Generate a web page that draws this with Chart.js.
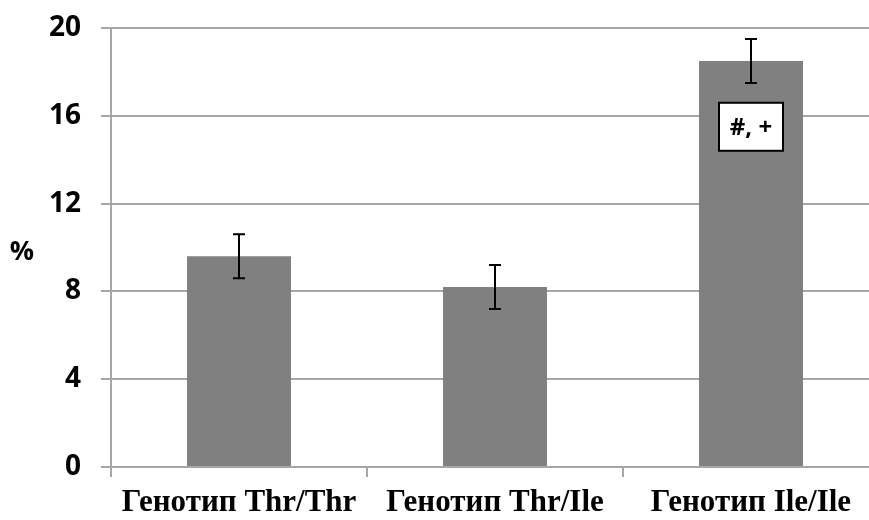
<!DOCTYPE html>
<html>
<head>
<meta charset="utf-8">
<script src="https://cdn.jsdelivr.net/npm/chart.js@4.4.1/dist/chart.umd.min.js"></script>
<style>
    html, body { margin: 0; padding: 0; background: #fff; overflow: hidden; }
    #wrap { width: 869px; height: 520px; overflow: hidden; }
</style>
</head>
<body>
<div id="wrap"><canvas id="genoChart" width="879" height="520"></canvas></div>
<script>
// ── Data ──
const categories = ['Генотип Thr/Thr', 'Генотип Thr/Ile', 'Генотип Ile/Ile'];
const values = [9.6, 8.2, 18.5];
const errors = [1.0, 1.0, 1.0];
const yTicks = [0, 4, 8, 12, 16, 20];
const markText = '#, +';
const markIndex = 2;
const markValue = 15.5;

const gridGray = '#a6a6a6';

// ── Error bars, significance box and "%" label ──
const extrasPlugin = {
    id: 'extras',
    afterDatasetsDraw(chart) {
        const ctx = chart.ctx;
        const y = chart.scales.y;
        const meta = chart.getDatasetMeta(0);

        ctx.save();
        ctx.strokeStyle = '#000';
        ctx.lineWidth = 2;
        meta.data.forEach((bar, i) => {
            const top = y.getPixelForValue(values[i] + errors[i]);
            const bot = y.getPixelForValue(values[i] - errors[i]);
            ctx.beginPath();
            ctx.moveTo(bar.x, top);
            ctx.lineTo(bar.x, bot);
            ctx.moveTo(bar.x - 6, top);
            ctx.lineTo(bar.x + 6, top);
            ctx.moveTo(bar.x - 6, bot);
            ctx.lineTo(bar.x + 6, bot);
            ctx.stroke();
        });

        // "#, +" box
        const mx = meta.data[markIndex].x;
        const my = y.getPixelForValue(markValue);
        const bw = 64, bh = 48;
        ctx.fillStyle = '#fff';
        ctx.fillRect(mx - bw / 2, my - bh / 2, bw, bh);
        ctx.strokeRect(mx - bw / 2, my - bh / 2, bw, bh);
        ctx.fillStyle = '#000';
        ctx.font = "bold 24px 'Open Sans'";
        ctx.textAlign = 'center';
        ctx.textBaseline = 'middle';
        ctx.fillText(markText, mx, my + 1);

        // axis unit
        ctx.font = "bold 27px 'Open Sans'";
        ctx.fillText('%', 22, 252);
        ctx.restore();
    }
};

const genoCtx = document.getElementById('genoChart');
new Chart(genoCtx, {
    type: 'bar',
    data: {
        labels: categories,
        datasets: [{
            data: values,
            backgroundColor: '#808080',
            borderWidth: 0,
            barPercentage: 0.5,
            categoryPercentage: 0.812
        }]
    },
    options: {
        responsive: false,
        animation: false,
        devicePixelRatio: 1,
        layout: { padding: { top: 28, right: 0, left: 0, bottom: 0 } },
        plugins: {
            legend: { display: false },
            tooltip: { enabled: false }
        },
        scales: {
            x: {
                grid: {
                    offset: true,
                    drawOnChartArea: false,
                    tickLength: 10,
                    color: gridGray,
                    lineWidth: 2
                },
                border: { color: gridGray, width: 2 },
                ticks: {
                    color: '#000',
                    padding: 7,
                    font: { family: "'Liberation Serif'", weight: 'bold', size: 31 }
                },
                afterFit: (scale) => { scale.height = 53; }
            },
            y: {
                min: 0,
                max: 20,
                afterBuildTicks: (scale) => {
                    scale.ticks = yTicks.map(v => ({ value: v }));
                },
                grid: { color: gridGray, lineWidth: 2, tickLength: 10 },
                border: { color: gridGray, width: 2 },
                ticks: {
                    color: '#000',
                    padding: 20,
                    font: { family: "'Open Sans'", weight: 'bold', size: 28 }
                },
                afterFit: (scale) => {
                    scale.width = 111;
                    scale.paddingTop = 0;
                    scale.paddingBottom = 0;
                }
            }
        }
    },
    plugins: [extrasPlugin]
});
</script>
</body>
</html>
